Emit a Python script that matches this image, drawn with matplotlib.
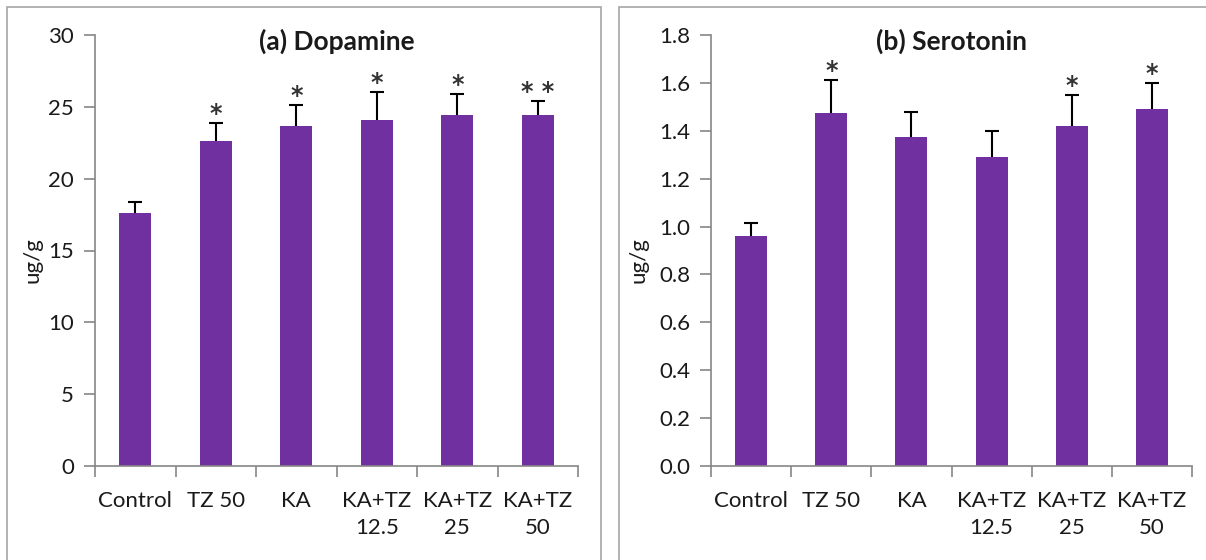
import matplotlib as mpl
import matplotlib.pyplot as plt
from matplotlib.patches import Rectangle
import numpy as np

mpl.rcParams["font.family"] = ['Lato', 'DejaVu Sans']
mpl.rcParams["font.size"] = 16
mpl.rcParams["text.color"] = '#1a1a1a'
mpl.rcParams["xtick.color"] = '#1a1a1a'
mpl.rcParams["ytick.color"] = '#1a1a1a'

groups = ['Control', 'TZ 50', 'KA', 'KA+TZ\n12.5', 'KA+TZ\n25', 'KA+TZ\n50']

dopamine = [17.6, 22.6, 23.7, 24.1, 24.4, 24.4]
dopamine_err = [0.8, 1.3, 1.4, 1.9, 1.5, 1.0]
dopamine_sig = ['', '*', '*', '*', '*', '**']

serotonin = [0.96, 1.475, 1.375, 1.29, 1.42, 1.49]
serotonin_err = [0.055, 0.135, 0.105, 0.11, 0.13, 0.11]
serotonin_sig = ['', '*', '', '', '*', '*']

bar_color = '#7030A0'
axis_gray = '#868686'

fig = plt.figure(figsize=(12.06, 5.6), dpi=100)

# panel frames
fig.patches.append(Rectangle((7 / 1206, -0.1), 594 / 1206, 1.1 - 7 / 560, transform=fig.transFigure,
                             fill=False, edgecolor='#a6a6a6', lw=1.2))
fig.patches.append(Rectangle((619 / 1206, -0.1), 0.5, 1.1 - 7 / 560, transform=fig.transFigure,
                             fill=False, edgecolor='#a6a6a6', lw=1.2))


def draw_panel(rect, vals, errs, sig, ymax, step, fmt, title, ylab_x):
    ax = fig.add_axes(rect)
    x = np.arange(len(groups))
    ax.bar(x, vals, width=0.4, color=bar_color, zorder=2)
    # symmetric bars drawn behind the columns so only the upper half shows
    ax.errorbar(x, vals, yerr=errs, fmt='none', ecolor='black',
                elinewidth=1.5, capsize=5, capthick=1.5, zorder=1)
    for xi, v, e, s in zip(x, vals, errs, sig):
        if s:
            ax.annotate(' '.join(s), (xi, v + e), xytext=(0, 1.5), textcoords='offset points',
                        ha='center', va='baseline', fontsize=17, color='#333333',
                        family='DejaVu Sans', fontweight='bold')
    ax.set_xlim(-0.5, len(groups) - 0.5)
    ax.set_ylim(0, ymax)
    ax.set_yticks(np.arange(0, ymax + step / 2, step))
    ax.yaxis.set_major_formatter(mpl.ticker.FormatStrFormatter(fmt))
    ax.set_xticks(x)
    ax.set_xticklabels(groups, linespacing=1.45)
    ax.set_xticks(np.arange(-0.5, len(groups)), minor=True)
    ax.tick_params(axis='x', which='major', length=0, pad=18)
    ax.tick_params(axis='x', which='minor', length=8, color=axis_gray, width=1.2, direction='out')
    ax.tick_params(axis='y', length=8, color=axis_gray, width=1.2, direction='out', pad=7)
    for sp in ['top', 'right']:
        ax.spines[sp].set_visible(False)
    for sp in ['left', 'bottom']:
        ax.spines[sp].set_color(axis_gray)
        ax.spines[sp].set_linewidth(1.2)
    ax.text(0.5, 0.985, title, transform=ax.transAxes, ha='center', va='center',
            fontsize=19, fontweight='bold')
    fig.text(ylab_x, 0.535, 'ug/g', rotation=90, ha='center', va='center', fontsize=16)
    return ax


draw_panel([95 / 1206, 1 - 466 / 560, 483 / 1206, 431 / 560], dopamine, dopamine_err, dopamine_sig,
           30, 5, '%d', '(a) Dopamine', 33 / 1206)
draw_panel([711 / 1206, 1 - 466 / 560, 481 / 1206, 431 / 560], serotonin, serotonin_err, serotonin_sig,
           1.8, 0.2, '%.1f', '(b) Serotonin', 639 / 1206)

plt.savefig('out.png', dpi=100)
